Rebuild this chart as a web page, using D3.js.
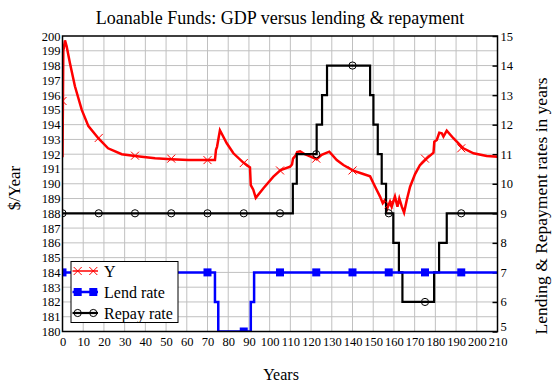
<!DOCTYPE html>
<html>
<head>
<meta charset="utf-8">
<script src="https://cdn.jsdelivr.net/npm/d3@7"></script>
<style>
  body { margin: 0; background: #fff; }
  svg { display: block; font-family: "Liberation Serif", "Times New Roman", serif; }
</style>
</head>
<body>
<svg id="chart" width="557" height="385"></svg>
<script>
// GDP curve Y ($/Year)
const yYears = [0, 0.4, 1.2, 2, 3.6, 6, 9.3, 12.5, 17.5, 22, 28.6, 35, 44.7, 52.5, 60.7, 70, 73.6, 74.1, 74.6, 76,
  79.3, 82.5, 87.3, 90.5, 90.9, 92.1, 93.3, 97, 101.8, 105.3, 109.9, 110.8, 111.3, 112.5, 113.3, 114.7, 117, 119.5,
  122.7, 125.1, 128.8, 132.4, 135.6, 140.4, 145.2, 148.5, 150.1, 151.7, 153.3, 154.6, 155.7, 156.8, 158.1, 158.9,
  160.5, 161.7, 162.6, 163.8, 164.9, 166.2, 167.8, 170.2, 172.6, 175.9, 179.1, 179.5, 180.7, 181.9, 183.1, 183.9,
  185.5, 188.7, 193.5, 198.4, 204.8, 210];
const yValues = [191.8, 199.0, 199.7, 199.3, 198.15, 196.6, 195.0, 193.9, 193.05, 192.4, 192.0, 191.88, 191.72, 191.66, 191.6, 191.6, 191.6, 192.3, 192.5, 193.62,
  192.74, 192.06, 191.43, 191.1, 189.9, 189.6, 189.05, 189.7, 190.48, 190.93, 191.16, 191.3, 191.7, 191.9, 192.15, 192.2, 192.0, 191.85,
  191.65, 191.95, 192.17, 191.6, 191.27, 190.89, 190.66, 190.5, 190.03, 189.58, 189.13, 188.68, 188.9, 188.34, 188.79, 188.45,
  189.13, 188.45, 189.0, 188.45, 188.05, 188.9, 189.8, 190.65, 191.27, 191.72, 192.1, 192.85, 192.96, 193.46, 193.42, 193.19,
  193.6, 193.08, 192.4, 192.06, 191.88, 191.82];

// marker positions (every 17.5 years) and Y values at them
const markYears = [0, 17.5, 35, 52.5, 70, 87.5, 105, 122.5, 140, 157.5, 175, 192.5];
const yMarks = [195.6, 193.1, 191.9, 191.7, 191.6, 191.4, 190.9, 191.7, 190.9, 188.6, 191.7, 192.4];

// lending rate (years), steps
const lendYears = [0, 73.6, 75.2, 90.9, 92.5, 210];
const lendRates = [7, 6, 5, 6, 7, 7];

// repayment rate (years), steps
const repayYears = [0, 111.2, 113.1, 122.7, 125.3, 127.7, 148.5, 150.1, 152.2, 154.1, 156.2, 159.7, 162.4, 164.1, 179.4, 181.8, 185.5, 210];
const repayRates = [9, 10, 11, 12, 13, 14, 13, 12, 11, 10, 9, 8, 7, 6, 7, 8, 9, 9];

const xTicks = d3.range(0, 211, 10);
const leftTicks = d3.range(180, 201, 1);
const rightTicks = d3.range(5, 16, 1);

const svg = d3.select("#chart");
const L = 62.5, R = 497.5, T = 36, B = 331.5;

const x = d3.scaleLinear().domain([0, 210]).range([L, R]);
const yL = d3.scaleLinear().domain([180, 200]).range([B, T]);
const yR = d3.scaleLinear().domain([5, 15]).range([B, T]);

// step lookup for the rate markers
function stepAt(xs, vs, t) {
  let i = d3.bisectRight(xs, t) - 1;
  return vs[Math.max(0, Math.min(i, vs.length - 1))];
}

svg.append("defs").append("clipPath").attr("id", "plot")
  .append("rect").attr("x", L).attr("y", T).attr("width", R - L).attr("height", B - T);

// grid
svg.append("g").selectAll("line").data(xTicks.slice(1, -1)).join("line")
  .attr("x1", d => x(d)).attr("x2", d => x(d)).attr("y1", T).attr("y2", B)
  .attr("stroke", "#c0c0c0").attr("stroke-width", 1);
svg.append("g").selectAll("line").data(leftTicks.slice(1, -1)).join("line")
  .attr("x1", L).attr("x2", R).attr("y1", d => yL(d)).attr("y2", d => yL(d))
  .attr("stroke", "#c0c0c0").attr("stroke-width", 1);

// axes
const xAxis = d3.axisBottom(x).tickValues(xTicks).tickSize(0).tickPadding(6);
svg.append("g").attr("transform", `translate(0,${B})`).call(xAxis)
  .call(g => g.select(".domain").remove());
const leftAxis = d3.axisLeft(yL).tickValues(leftTicks).tickSize(0).tickPadding(2);
svg.append("g").attr("transform", `translate(${L},0)`).call(leftAxis)
  .call(g => g.select(".domain").remove());
const rightAxis = d3.axisRight(yR).tickValues(rightTicks).tickSize(-5).tickPadding(3);
svg.append("g").attr("transform", `translate(${R},0)`).call(rightAxis)
  .call(g => g.select(".domain").remove())
  .call(g => g.selectAll("line").attr("stroke", "#000").attr("stroke-width", 1.5))
  // lowest label sits just above the 210 of the x axis
  .call(g => g.selectAll(".tick text").filter(d => d === 5).attr("dy", "-0.05em"));
svg.selectAll(".tick text").attr("font-size", 12.5).attr("fill", "#000")
  .attr("font-family", "Liberation Serif, serif");

const plot = svg.append("g").attr("clip-path", "url(#plot)");

const redLine = d3.line().x(d => x(d[0])).y(d => yL(d[1]));
plot.append("path").datum(d3.zip(yYears, yValues))
  .attr("d", redLine).attr("fill", "none").attr("stroke", "#ff0000").attr("stroke-width", 2.5);

const stepLine = d3.line().x(d => x(d[0])).y(d => yR(d[1])).curve(d3.curveStepAfter);
plot.append("path").datum(d3.zip(repayYears, repayRates))
  .attr("d", stepLine).attr("fill", "none").attr("stroke", "#000").attr("stroke-width", 2.2);
plot.append("path").datum(d3.zip(lendYears, lendRates))
  .attr("d", stepLine).attr("fill", "none").attr("stroke", "#0000ff").attr("stroke-width", 2.5);

function cross(g, cx, cy) {
  g.append("path").attr("d", `M${cx - 4},${cy - 4}L${cx + 4},${cy + 4}M${cx - 4},${cy + 4}L${cx + 4},${cy - 4}`)
    .attr("stroke", "#ff0000").attr("stroke-width", 1).attr("fill", "none");
}
function square(g, cx, cy) {
  g.append("rect").attr("x", cx - 4).attr("y", cy - 4).attr("width", 8).attr("height", 8).attr("fill", "#0000ff");
}
function circle(g, cx, cy) {
  g.append("circle").attr("cx", cx).attr("cy", cy).attr("r", 3.6)
    .attr("fill", "none").attr("stroke", "#000").attr("stroke-width", 1);
}

markYears.forEach((t, i) => {
  cross(plot, x(t), yL(yMarks[i]));
  square(plot, x(t), yR(stepAt(lendYears, lendRates, t)));
  circle(plot, x(t), yR(stepAt(repayYears, repayRates, t)));
});

// frame
svg.append("rect").attr("x", L).attr("y", T).attr("width", R - L).attr("height", B - T)
  .attr("fill", "none").attr("stroke", "#000").attr("stroke-width", 1.5);

// legend
const legend = svg.append("g");
legend.append("rect").attr("x", 71).attr("y", 261.5).attr("width", 107).attr("height", 61)
  .attr("fill", "#fff").attr("stroke", "#000").attr("stroke-width", 1);
const entries = [
  { name: "Y", color: "#ff0000", mark: cross, w: 1.5 },
  { name: "Lend rate", color: "#0000ff", mark: square, w: 2.5 },
  { name: "Repay rate", color: "#000", mark: circle, w: 2.2 }
];
entries.forEach((e, i) => {
  const cy = 271 + i * 21;
  legend.append("line").attr("x1", 72.5).attr("x2", 98).attr("y1", cy).attr("y2", cy)
    .attr("stroke", e.color).attr("stroke-width", e.w);
  e.mark(legend, 77.7, cy);
  e.mark(legend, 93.3, cy);
  legend.append("text").attr("x", 104).attr("y", cy + 5.5).attr("font-size", 16).text(e.name);
});

// titles
svg.append("text").attr("x", 280).attr("y", 24).attr("text-anchor", "middle")
  .attr("font-size", 18).text("Loanable Funds: GDP versus lending & repayment");
svg.append("text").attr("transform", "translate(20,188) rotate(-90)").attr("text-anchor", "middle")
  .attr("font-size", 17).text("$/Year");
svg.append("text").attr("transform", "translate(547,206) rotate(-90)").attr("text-anchor", "middle")
  .attr("font-size", 17.5).text("Lending & Repayment rates in years");
svg.append("text").attr("x", 281).attr("y", 380).attr("text-anchor", "middle")
  .attr("font-size", 16).text("Years");
</script>
</body>
</html>
